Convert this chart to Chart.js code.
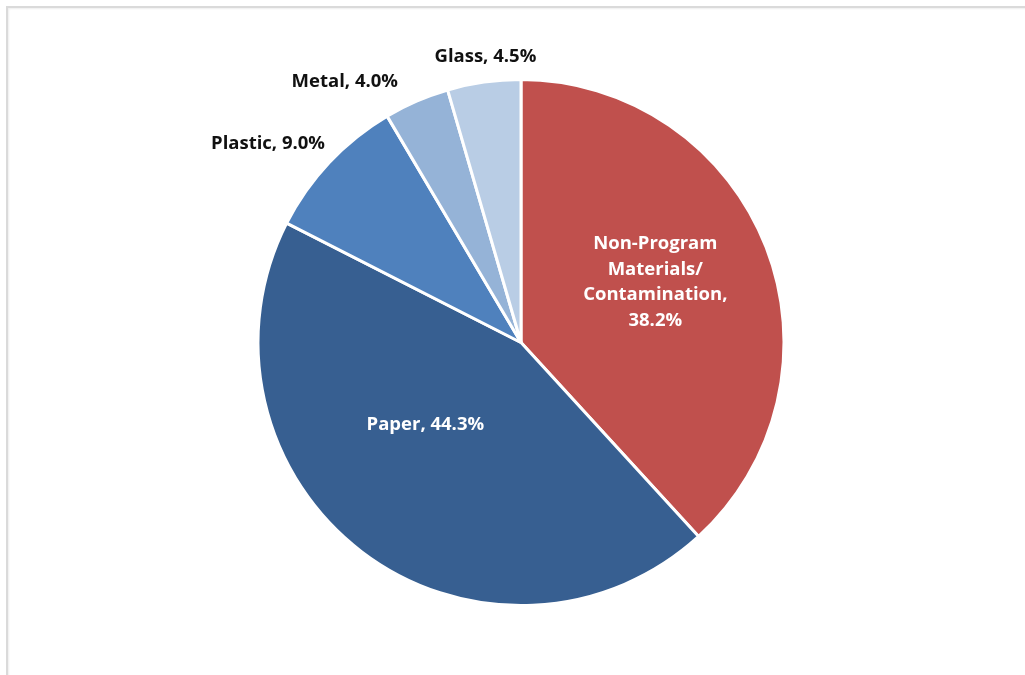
<!DOCTYPE html>
<html>
<head>
<meta charset="utf-8">
<script src="https://cdn.jsdelivr.net/npm/chart.js@4"></script>
<style>
  html, body { margin: 0; padding: 0; background: #fff; overflow: hidden; }
  #frame {
    position: absolute; left: 6px; top: 6px; width: 1040px; height: 700px;
    border: 2px solid #dadada; box-shadow: inset 1px 1px 2px #eee;
  }
  #wrap { position: absolute; left: 0; top: 0; width: 1025px; height: 675px; }
</style>
</head>
<body>
<div id="frame"></div>
<div id="wrap"><canvas id="pie-chart"></canvas></div>
<script>
//chart data
const categories = ['Non-Program Materials/ Contamination', 'Paper', 'Plastic', 'Metal', 'Glass'];
const labelLines = [['Non-Program', 'Materials/', 'Contamination,', '38.2%'], ['Paper, 44.3%'], ['Plastic, 9.0%'], ['Metal, 4.0%'], ['Glass, 4.5%']];
const shares = [38.2, 44.3, 9.0, 4.0, 4.5];
const sliceColors = ['#c0504d', '#375f91', '#4f81bd', '#95b3d7', '#b9cde5'];

//label placement relative to each arc: radius factor and angle shift (deg)
const labelPlace = [
    { f: 0.56, da: -3, color: '#ffffff' },
    { f: 0.48, da: 12, color: '#ffffff' },
    { f: 1.224, da: -5, color: '#111111' },
    { f: 1.198, da: -10.6, color: '#111111' },
    { f: 1.095, da: 1, color: '#111111' },
];

const sliceLabels = {
    id: 'sliceLabels',
    afterDatasetsDraw(chart) {
        const ctx = chart.ctx;
        const arcs = chart.getDatasetMeta(0).data;
        ctx.save();
        ctx.font = 'bold 18.5px "Open Sans", Lato, sans-serif';
        ctx.textAlign = 'center';
        ctx.textBaseline = 'middle';
        arcs.forEach((arc, i) => {
            const p = arc.getProps(['x', 'y', 'startAngle', 'endAngle', 'outerRadius'], true);
            const ang = (p.startAngle + p.endAngle) / 2 + labelPlace[i].da * Math.PI / 180;
            const d = p.outerRadius * labelPlace[i].f;
            const cx = p.x + Math.cos(ang) * d;
            const cy = p.y + Math.sin(ang) * d;
            const lines = labelLines[i];
            const lh = 25.5;
            ctx.fillStyle = labelPlace[i].color;
            lines.forEach((line, j) => {
                ctx.fillText(line, cx, cy + (j - (lines.length - 1) / 2) * lh);
            });
        });
        ctx.restore();
    }
};

const config = {
    type: 'pie',
    data: {
        labels: categories,
        datasets: [{
            data: shares,
            backgroundColor: sliceColors,
            borderColor: '#ffffff',
            borderWidth: 3,
        }],
    },
    options: {
        responsive: true,
        maintainAspectRatio: false,
        animation: false,
        layout: { padding: { top: 78, bottom: 68, left: 17, right: 0 } },
        plugins: {
            legend: { display: false },
            tooltip: { enabled: false },
        },
    },
    plugins: [sliceLabels],
};

new Chart(document.getElementById('pie-chart'), config);
</script>
</body>
</html>
